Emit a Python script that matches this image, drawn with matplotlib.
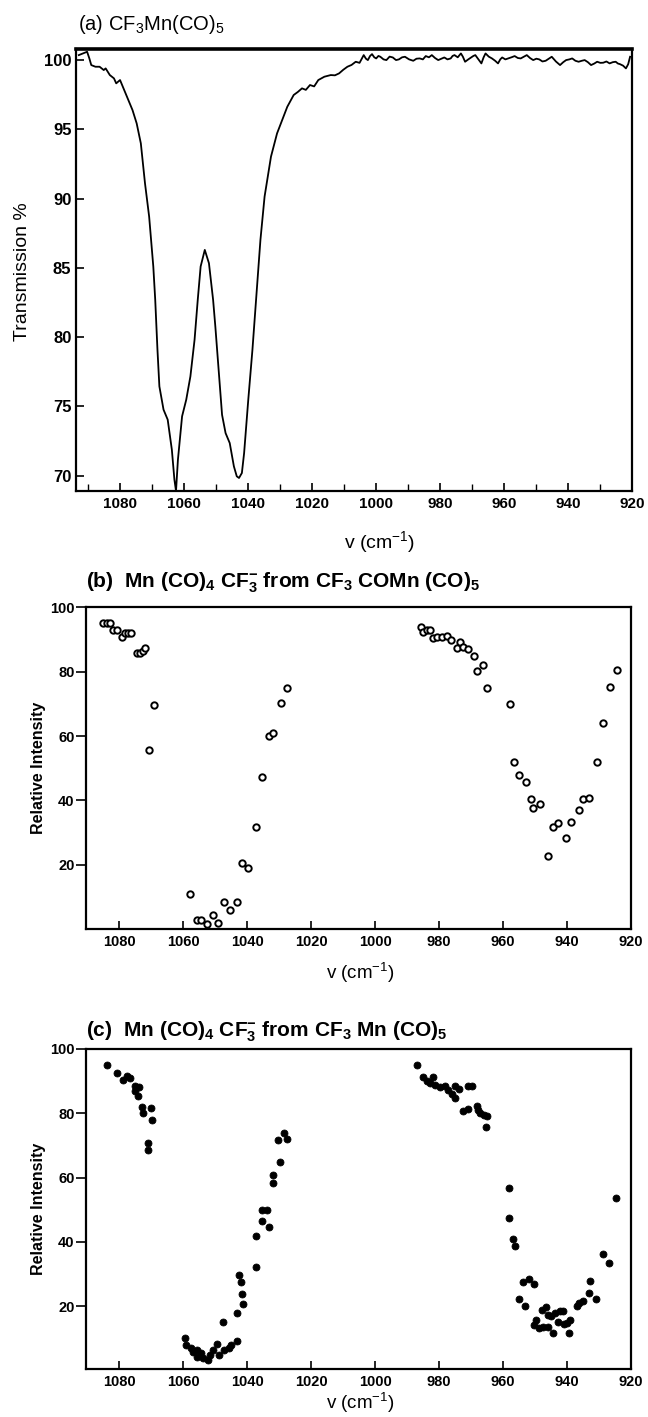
import matplotlib
matplotlib.use('Agg')
import matplotlib.pyplot as plt
from matplotlib.ticker import MultipleLocator, FixedLocator

plt.rcParams['font.family'] = ['Liberation Sans', 'DejaVu Sans']
plt.rcParams['mathtext.fontset'] = 'custom'
plt.rcParams['mathtext.rm'] = 'Liberation Sans'
plt.rcParams['mathtext.it'] = 'Liberation Sans:italic'
plt.rcParams['mathtext.bf'] = 'Liberation Sans:bold'
plt.rcParams['mathtext.default'] = 'regular'

# ---------------- data ----------------
# (a) IR transmission spectrum of CF3Mn(CO)5
wn_a = [1093.0, 1091.7, 1090.4, 1089.7, 1089.1, 1087.8, 1086.5, 1085.2, 1084.6, 1083.3,
        1082.0, 1081.3, 1080.1, 1078.8, 1077.5, 1076.2, 1074.9, 1073.6, 1072.3, 1071.0,
        1069.7, 1069.1, 1068.4, 1067.8, 1066.5, 1065.2, 1063.9, 1063.1, 1062.6, 1062.0,
        1060.7, 1059.4, 1058.1, 1056.8, 1055.8, 1054.9, 1053.6, 1052.3, 1051.0, 1050.3,
        1049.1, 1048.2, 1047.1, 1045.8, 1044.5, 1043.6, 1042.9, 1042.0, 1041.3, 1040.0,
        1038.7, 1037.4, 1036.2, 1034.9, 1032.9, 1031.0, 1029.0, 1027.8, 1025.8, 1024.5,
        1023.2, 1022.0, 1020.7, 1019.4, 1018.1, 1016.2, 1014.2, 1012.9, 1011.6, 1010.3,
        1009.0, 1007.7, 1006.4, 1005.2, 1003.9, 1003.2, 1002.6, 1001.9, 1001.3, 1000.6,
        1000.0, 999.3, 998.7, 997.7, 996.8, 995.8, 994.8, 993.8, 992.9, 991.9,
        991.0, 989.7, 988.4, 987.4, 986.4, 985.4, 984.5, 983.5, 982.6, 981.6,
        980.6, 979.6, 978.7, 977.7, 976.7, 976.1, 975.5, 974.5, 973.5, 972.9,
        972.2, 971.2, 970.3, 969.6, 969.0, 968.0, 967.1, 966.4, 965.8, 964.8,
        963.8, 962.8, 961.9, 961.2, 960.6, 959.6, 958.7, 957.7, 956.7, 955.7,
        954.8, 953.8, 952.9, 951.9, 950.9, 949.9, 949.0, 948.0, 947.0, 946.0,
        945.1, 943.8, 942.5, 941.5, 940.6, 939.6, 938.7, 937.7, 936.7, 935.7,
        934.8, 933.8, 932.8, 931.8, 930.9, 929.9, 929.0, 928.0, 927.0, 926.0,
        925.1, 924.4, 923.8, 922.8, 921.9, 921.2, 920.6]
trans_a = [100.36, 100.48, 100.60, 100.12, 99.64, 99.52, 99.52, 99.28, 99.40, 98.92,
           98.68, 98.32, 98.56, 97.84, 97.12, 96.39, 95.43, 93.99, 91.11, 88.70,
           85.10, 82.70, 79.09, 76.45, 74.77, 74.05, 71.88, 69.72, 68.90, 71.16,
           74.29, 75.49, 77.17, 79.81, 82.70, 85.10, 86.30, 85.34, 82.70, 80.77,
           77.17, 74.40, 73.08, 72.36, 70.68, 69.96, 69.84, 70.20, 71.64, 75.49,
           79.09, 83.18, 87.02, 90.15, 93.03, 94.71, 95.91, 96.63, 97.48, 97.70,
           97.96, 97.85, 98.20, 98.10, 98.56, 98.80, 98.92, 98.90, 99.04, 99.30,
           99.52, 99.65, 99.88, 99.80, 100.36, 100.10, 100.00, 100.30, 100.43, 100.20,
           100.12, 100.30, 100.24, 100.05, 100.00, 100.25, 100.19, 100.00, 100.05, 100.20,
           100.24, 100.05, 99.95, 100.10, 100.12, 100.05, 100.29, 100.20, 100.36, 100.15,
           100.00, 100.10, 100.19, 100.05, 100.12, 100.30, 100.36, 100.20, 100.48, 100.25,
           99.88, 100.05, 100.19, 100.30, 100.36, 100.05, 99.76, 100.20, 100.48, 100.25,
           100.12, 99.95, 99.76, 100.05, 100.19, 100.05, 100.12, 100.20, 100.29, 100.15,
           100.12, 100.25, 100.36, 100.15, 100.00, 100.10, 100.05, 99.90, 99.95, 100.10,
           100.24, 99.90, 99.64, 99.85, 100.00, 100.05, 100.12, 99.95, 99.88, 99.95,
           100.00, 99.85, 99.64, 99.75, 99.88, 99.80, 99.81, 99.90, 99.76, 99.85,
           99.88, 99.75, 99.71, 99.60, 99.40, 99.70, 100.24]

# (b) Mn(CO)4CF3- from CF3COMn(CO)5 (open circles)
wn_b = [1085.1, 1083.8, 1082.8, 1081.8, 1080.5, 1079.2, 1078.1, 1077.1, 1076.3, 1074.5,
        1073.4, 1072.6, 1071.9, 1070.6, 1069.0, 1057.8, 1055.8, 1054.3, 1052.6, 1050.7,
        1049.1, 1047.1, 1045.4, 1043.3, 1041.5, 1039.8, 1037.2, 1035.4, 1033.3, 1031.8,
        1029.5, 1027.6,
        985.7, 984.9, 983.8, 982.8, 981.8, 980.5, 979.2, 977.6, 976.3, 974.5,
        973.4, 972.4, 970.8, 969.0, 968.2, 966.2, 965.1, 957.8, 956.5, 954.9,
        952.9, 951.3, 950.5, 948.4, 945.8, 944.5, 942.7, 940.4, 938.8, 936.3,
        935.1, 933.1, 930.5, 928.6, 926.6, 924.5]
int_b = [95.3, 95.3, 95.3, 93.0, 93.0, 90.8, 92.0, 92.2, 92.2, 86.0,
         86.0, 86.6, 87.3, 55.7, 69.7, 10.9, 2.8, 2.8, 1.6, 4.5,
         1.8, 8.3, 5.9, 8.3, 20.6, 18.9, 31.6, 47.4, 60.0, 61.1,
         70.2, 74.9,
         93.8, 92.5, 93.0, 93.0, 90.4, 90.7, 90.7, 91.1, 89.9, 87.3,
         89.4, 87.8, 87.0, 84.9, 80.3, 82.1, 74.9, 70.0, 51.8, 47.9,
         45.6, 40.3, 37.7, 38.8, 22.7, 31.8, 32.9, 28.2, 33.4, 37.0,
         40.3, 40.8, 51.8, 64.2, 75.4, 80.6]

# (c) Mn(CO)4CF3- from CF3Mn(CO)5 (filled circles)
wn_c = [1083.9, 1080.5, 1078.9, 1077.6, 1076.6, 1075.0, 1075.0, 1073.8, 1074.0, 1072.7,
        1072.6, 1070.1, 1069.6, 1071.1, 1071.0, 1059.4, 1059.1, 1057.6, 1056.8, 1055.7,
        1055.7, 1054.4, 1053.7, 1052.3, 1051.6, 1050.7, 1049.5, 1048.9, 1047.4, 1047.1,
        1045.5, 1045.1, 1043.2, 1043.2, 1041.7, 1041.4, 1042.4, 1042.0, 1037.3, 1037.2,
        1035.4, 1035.4, 1033.9, 1033.3, 1031.8, 1031.8, 1029.7, 1030.2, 1028.4, 1027.6,
        986.8, 984.9, 983.9, 982.0, 982.8, 981.2, 979.7, 978.1, 977.1, 976.0,
        975.0, 975.0, 973.8, 971.1, 969.8, 972.4, 970.8, 968.2, 967.7, 967.2,
        966.1, 965.1, 965.3, 958.0, 958.1, 956.8, 956.3, 953.6, 951.8, 950.3,
        955.0, 953.1, 949.6, 950.2, 948.6, 947.4, 947.9, 946.6, 945.8, 945.8,
        944.3, 945.1, 943.8, 942.2, 941.1, 942.7, 940.9, 940.1, 939.1, 939.3,
        937.0, 936.2, 934.9, 933.0, 932.8, 930.9, 928.6, 926.8, 924.7]
int_c = [94.9, 92.5, 90.4, 91.5, 90.9, 88.4, 86.8, 88.1, 85.3, 81.9,
         80.1, 81.6, 78.0, 70.7, 68.7, 10.1, 8.1, 7.0, 5.7, 6.5,
         4.2, 5.5, 3.9, 3.2, 4.7, 6.5, 8.4, 4.7, 15.0, 6.5,
         7.0, 8.1, 9.1, 17.9, 23.9, 20.8, 29.8, 27.4, 32.1, 42.0,
         46.6, 49.8, 50.0, 44.8, 58.3, 60.9, 64.8, 71.8, 73.9, 72.0,
         95.1, 91.3, 89.9, 91.2, 89.4, 88.9, 88.2, 88.6, 87.3, 86.1,
         84.7, 88.6, 87.5, 88.6, 88.4, 80.8, 81.4, 82.4, 81.1, 80.1,
         79.5, 79.2, 75.6, 56.8, 47.6, 40.9, 38.8, 27.4, 28.5, 27.0,
         22.3, 20.2, 15.6, 14.3, 13.3, 13.6, 18.9, 19.8, 17.4, 13.6,
         11.7, 17.1, 17.9, 18.4, 18.4, 15.0, 14.6, 14.8, 15.6, 11.7,
         20.0, 21.0, 21.5, 24.1, 27.8, 22.3, 36.4, 33.5, 53.7]

xticks_ab = [1080, 1060, 1040, 1020, 1000, 980, 960, 940, 920]
yticks_a = [70, 75, 80, 85, 90, 95, 100]
yticks_bc = [20, 40, 60, 80, 100]

title_a = r"(a) CF$_3$Mn(CO)$_5$"
title_b = r"(b)  Mn (CO)$_\mathbf{4}$ CF$_\mathbf{3}^\mathbf{-}$ from CF$_\mathbf{3}$ COMn (CO)$_\mathbf{5}$"
title_c = r"(c)  Mn (CO)$_\mathbf{4}$ CF$_\mathbf{3}^\mathbf{-}$ from CF$_\mathbf{3}$ Mn (CO)$_\mathbf{5}$"
xlabel = r"v (cm$^{-1}$)"
ylabel_a = "Transmission %"
ylabel_bc = "Relative Intensity"

# ---------------- figure ----------------
W, H = 648, 1417
fig = plt.figure(figsize=(W / 100, H / 100), dpi=100)


def ax_rect(l, r, t, b):
    return [l / W, 1 - b / H, (r - l) / W, (b - t) / H]


def ftext(x, y, s, **kw):
    return fig.text(x / W, 1 - y / H, s, **kw)


def style_spines(ax, lw=1.6):
    for s in ax.spines.values():
        s.set_linewidth(lw)
        s.set_color('black')


# (a)
axa = fig.add_axes(ax_rect(75.6, 632, 49, 491))
axa.plot(wn_a, trans_a, color='black', lw=1.3)
axa.set_xlim(1094, 920)
axa.set_ylim(68.9, 100.8)
axa.xaxis.set_major_locator(FixedLocator(xticks_ab))
axa.xaxis.set_minor_locator(MultipleLocator(10))
axa.yaxis.set_major_locator(FixedLocator(yticks_a))
axa.tick_params(axis='x', which='major', direction='in', length=6, width=1.2,
                labelsize=11, pad=4)
axa.tick_params(axis='x', which='minor', direction='in', length=5, width=1.0)
axa.tick_params(axis='y', which='major', direction='in', length=6, width=1.2,
                labelsize=12, pad=3)
for lab in axa.get_xticklabels() + axa.get_yticklabels():
    lab.set_fontweight('bold')
style_spines(axa)
axa.spines['top'].set_linewidth(2.6)

ftext(23, 272, ylabel_a, fontsize=14, rotation=90, ha='center', va='center')
ftext(78, 25, title_a, fontsize=14.5, ha='left', va='center')
ftext(380, 542, xlabel, fontsize=14, ha='center', va='center')

# (b)
axb = fig.add_axes(ax_rect(85.5, 631, 607.5, 929))
axb.plot(wn_b, int_b, linestyle='none', marker='o', markersize=4.6,
         markerfacecolor='white', markeredgecolor='black', markeredgewidth=1.4)
axb.set_xlim(1090.5, 920)
axb.set_ylim(0, 100)

# (c)
axc = fig.add_axes(ax_rect(85.5, 631, 1049, 1369))
axc.plot(wn_c, int_c, linestyle='none', marker='o', markersize=5.0,
         markerfacecolor='black', markeredgecolor='black', markeredgewidth=0.6)
axc.set_xlim(1090.5, 920)
axc.set_ylim(0.5, 100)

for ax in (axb, axc):
    ax.xaxis.set_major_locator(FixedLocator(xticks_ab))
    ax.yaxis.set_major_locator(FixedLocator(yticks_bc))
    ax.tick_params(axis='x', direction='in', length=6, width=1.2, labelsize=10.5, pad=4)
    ax.tick_params(axis='y', direction='out', length=7, width=1.2, labelsize=10.5, pad=1)
    for lab in ax.get_xticklabels() + ax.get_yticklabels():
        lab.set_fontweight('bold')
    style_spines(ax)

ftext(39, 768, ylabel_bc, fontsize=11.5, fontweight='bold', rotation=90,
      ha='center', va='center')
ftext(85.5, 583, title_b, fontsize=15, fontweight='bold', ha='left', va='center')
ftext(360, 973, xlabel, fontsize=13.5, ha='center', va='center')

ftext(39, 1209, ylabel_bc, fontsize=11.5, fontweight='bold', rotation=90,
      ha='center', va='center')
ftext(85.5, 1032, title_c, fontsize=15, fontweight='bold', ha='left', va='center')
ftext(360, 1403, xlabel, fontsize=13.5, ha='center', va='center')

fig.savefig('out.png', dpi=100, facecolor='white')
